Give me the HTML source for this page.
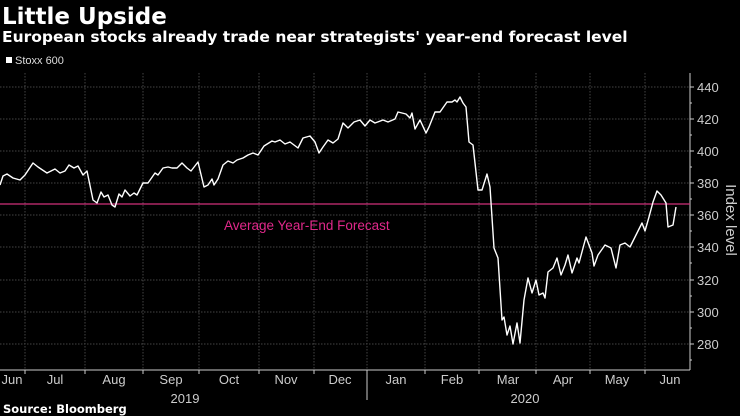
<!DOCTYPE html>
<html><head><meta charset="utf-8"><style>
body{margin:0;background:#000;width:740px;height:416px;overflow:hidden;font-family:"Liberation Sans","DejaVu Sans",sans-serif;}
</style></head><body>
<svg width="740" height="416" xmlns="http://www.w3.org/2000/svg" style="position:absolute;left:0;top:0">
<rect width="740" height="416" fill="#000"/>
<text x="2" y="24" fill="#fff" font-size="23" font-weight="bold" font-family="DejaVu Sans, sans-serif">Little Upside</text>
<text x="2" y="42" fill="#fff" font-size="15.5" font-weight="bold" font-family="DejaVu Sans, sans-serif">European stocks already trade near strategists' year-end forecast level</text>
<rect x="6" y="57" width="6" height="6" fill="#fff"/>
<text x="15" y="64" fill="#ddd" font-size="11">Stoxx 600</text>
<g stroke="#444" stroke-dasharray="1.5,1.5" stroke-width="1">
<line x1="0" x2="690" y1="87" y2="87"/><line x1="0" x2="690" y1="119" y2="119"/><line x1="0" x2="690" y1="151" y2="151"/><line x1="0" x2="690" y1="183" y2="183"/><line x1="0" x2="690" y1="215" y2="215"/><line x1="0" x2="690" y1="247" y2="247"/><line x1="0" x2="690" y1="280" y2="280"/><line x1="0" x2="690" y1="312" y2="312"/><line x1="0" x2="690" y1="344" y2="344"/>
<line x1="25" x2="25" y1="73" y2="370"/><line x1="85" x2="85" y1="73" y2="370"/><line x1="143" x2="143" y1="73" y2="370"/><line x1="199" x2="199" y1="73" y2="370"/><line x1="259" x2="259" y1="73" y2="370"/><line x1="314" x2="314" y1="73" y2="370"/><line x1="367" x2="367" y1="73" y2="370"/><line x1="425" x2="425" y1="73" y2="370"/><line x1="479" x2="479" y1="73" y2="370"/><line x1="536" x2="536" y1="73" y2="370"/><line x1="590" x2="590" y1="73" y2="370"/><line x1="645" x2="645" y1="73" y2="370"/>
</g>
<line x1="690" x2="690" y1="73" y2="370" stroke="#ccc"/>
<line x1="0" x2="690" y1="370" y2="370" stroke="#ccc"/>
<g stroke="#ccc">
<line x1="690" x2="694" y1="87" y2="87"/><line x1="690" x2="694" y1="119" y2="119"/><line x1="690" x2="694" y1="151" y2="151"/><line x1="690" x2="694" y1="183" y2="183"/><line x1="690" x2="694" y1="215" y2="215"/><line x1="690" x2="694" y1="247" y2="247"/><line x1="690" x2="694" y1="280" y2="280"/><line x1="690" x2="694" y1="312" y2="312"/><line x1="690" x2="694" y1="344" y2="344"/>
<line x1="690" x2="692" y1="103" y2="103"/><line x1="690" x2="692" y1="135" y2="135"/><line x1="690" x2="692" y1="167" y2="167"/><line x1="690" x2="692" y1="199" y2="199"/><line x1="690" x2="692" y1="231" y2="231"/><line x1="690" x2="692" y1="263" y2="263"/><line x1="690" x2="692" y1="296" y2="296"/><line x1="690" x2="692" y1="328" y2="328"/><line x1="690" x2="692" y1="360" y2="360"/>
<line x1="25" x2="25" y1="370" y2="374"/><line x1="85" x2="85" y1="370" y2="374"/><line x1="143" x2="143" y1="370" y2="374"/><line x1="199" x2="199" y1="370" y2="374"/><line x1="259" x2="259" y1="370" y2="374"/><line x1="314" x2="314" y1="370" y2="374"/><line x1="367" x2="367" y1="370" y2="400"/><line x1="425" x2="425" y1="370" y2="374"/><line x1="479" x2="479" y1="370" y2="374"/><line x1="536" x2="536" y1="370" y2="374"/><line x1="590" x2="590" y1="370" y2="374"/><line x1="645" x2="645" y1="370" y2="374"/>
</g>
<g fill="#ccc" font-size="13">
<text x="697" y="92">440</text><text x="697" y="124">420</text><text x="697" y="156">400</text><text x="697" y="188">380</text><text x="697" y="220">360</text><text x="697" y="252">340</text><text x="697" y="285">320</text><text x="697" y="317">300</text><text x="697" y="349">280</text>
</g>
<text transform="translate(726,220) rotate(90)" fill="#ccc" font-size="15" text-anchor="middle">Index level</text>
<g fill="#ccc" font-size="13" text-anchor="middle">
<text x="12" y="384">Jun</text><text x="55" y="384">Jul</text><text x="114" y="384">Aug</text><text x="171" y="384">Sep</text><text x="229" y="384">Oct</text><text x="286" y="384">Nov</text><text x="340" y="384">Dec</text><text x="396" y="384">Jan</text><text x="452" y="384">Feb</text><text x="508" y="384">Mar</text><text x="563" y="384">Apr</text><text x="617" y="384">May</text><text x="670" y="384">Jun</text>
<text x="185" y="403">2019</text><text x="525" y="403">2020</text>
</g>
<text x="3" y="413" fill="#fff" font-size="11.5" font-weight="bold" font-family="DejaVu Sans, sans-serif">Source: Bloomberg</text>
<line x1="0" x2="690" y1="204" y2="204" stroke="#d0307a" stroke-width="1.2"/>
<text x="224" y="230" fill="#e0288a" font-size="13.5">Average Year-End Forecast</text>
<polyline fill="none" stroke="#fff" stroke-width="1.4" stroke-linejoin="round" points="0,185 3,176 7,174 13,178 20,180 25,175 33,163 38,167 47,173 55,169 60,173 65,171 69,165 74,168 78,166 83,175 87,171 93,200 97,203 101,192 104,197 108,195 112,205 115,207 119,194 122,197 125,190 130,196 134,193 137,195 143,183 148,183 155,173 158,175 163,168 168,167 172,168 177,168 182,163 187,168 191,171 198,162 204,187 208,185 212,179 214,185 218,179 223,165 228,161 233,163 237,160 243,158 248,155 253,153 258,155 264,146 272,141 275,142 280,140 285,144 290,142 298,148 303,138 310,136 315,142 319,153 323,147 328,140 333,143 338,139 343,123 348,128 354,122 360,120 365,126 370,120 375,123 383,120 388,122 395,119 398,112 406,114 410,118 412,113 415,129 420,120 426,133 429,127 435,112 440,112 447,102 452,102 455,100 457,102 460,97 463,103 466,107 469,142 473,145 478,190 482,190 487,174 490,187 494,248 498,258 502,320 504,317 507,335 510,326 513,344 517,323 520,343 524,300 528,278 532,293 536,280 539,295 543,293 545,298 548,272 553,268 557,258 561,275 565,265 568,255 572,273 577,258 579,263 586,237 592,253 594,266 598,255 605,245 611,248 616,268 620,245 625,243 630,247 637,233 642,223 645,231 649,217 653,202 657,191 661,195 666,203 668,227 673,225 676,207"/>
</svg>
</body></html>
